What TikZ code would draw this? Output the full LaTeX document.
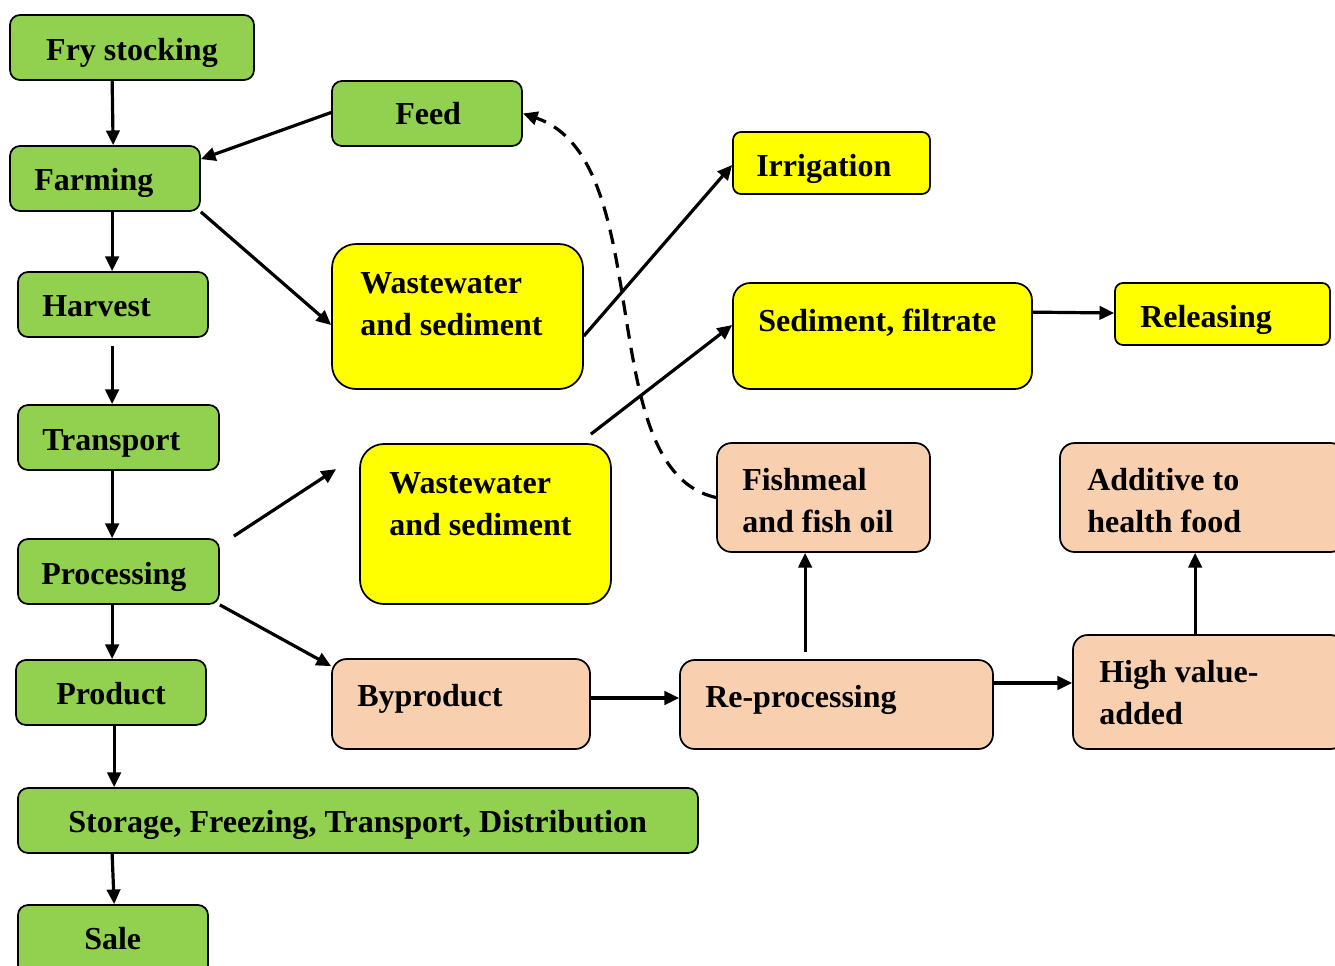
\documentclass[tikz,border=0pt]{standalone}
\usepackage{fontspec}
\usepackage{graphicx}
\setmainfont{Liberation Serif}
\usetikzlibrary{arrows.meta,calc}
\definecolor{gr}{HTML}{92D050}
\definecolor{yl}{HTML}{FFFF00}
\definecolor{pc}{HTML}{F8D0B0}
\newcommand\mybox[7]{\node[box,fill=#6,rounded corners=#7,minimum width=#4*0.75pt,minimum height=#5*0.75pt] (#1) at (#2,#3) {};}
\begin{document}
\begin{tikzpicture}[x=0.75pt,y=-0.75pt,
  box/.style={draw=black,line width=1.3pt,inner sep=0pt},
  lbl/.style={font=\fontsize{24}{31.5}\selectfont\bfseries,inner sep=0pt,anchor=base west,align=left},
  arr/.style={line width=2.4pt,-{Triangle[length=11pt,width=10pt]}},
  dsh/.style={line width=2.4pt,dash pattern=on 11pt off 7pt,-{Triangle[length=11pt,width=10pt]}}]
\useasboundingbox (0,0) rectangle (1335,965);
\clip (0,0) rectangle (1335,965);
% boxes
\mybox{fry}{132}{47.5}{244}{65}{gr}{7.5pt}
\mybox{farm}{105}{178.5}{190}{65}{gr}{7.5pt}
\mybox{feed}{427}{113.5}{190}{65}{gr}{7.5pt}
\mybox{harv}{113}{304.5}{190}{65}{gr}{7.5pt}
\mybox{trans}{118.5}{437.5}{201}{65}{gr}{7.5pt}
\mybox{proc}{118.5}{571.5}{201}{65}{gr}{7.5pt}
\mybox{prod}{111}{692.5}{190}{65}{gr}{7.5pt}
\mybox{stor}{358}{820.5}{680}{65}{gr}{7.5pt}
\mybox{sale}{113}{940}{190}{70}{gr}{7.5pt}
\mybox{ww1}{457.5}{316.5}{251}{145}{yl}{18pt}
\mybox{ww2}{485.5}{524}{251}{160}{yl}{18pt}
\mybox{irr}{831.5}{163}{197}{62}{yl}{6pt}
\mybox{sed}{882.5}{336}{299}{106}{yl}{13pt}
\mybox{rel}{1222.5}{314}{215}{62}{yl}{6pt}
\mybox{fish}{823.5}{497.5}{213}{109}{pc}{11pt}
\mybox{add}{1202.5}{497.5}{285}{109}{pc}{11pt}
\mybox{byp}{461}{704}{258}{90}{pc}{11pt}
\mybox{rep}{836.5}{704.5}{313}{89}{pc}{11pt}
\mybox{high}{1209}{692}{272}{114}{pc}{11pt}
% labels (base anchor = baseline of the last line)
\node[lbl,anchor=base] (fryT) at (132,60) {Fry stocking};
\node[lbl] (farmT) at (34,190) {Farming};
\node[lbl] (feedT) at (395,124) {Feed};
\node[lbl] (harvT) at (42,316) {Harvest};
\node[lbl] (transT) at (42,450) {Transport};
\node[lbl] (procT) at (41,584) {Processing};
\node[lbl] (prodT) at (56,704) {Product};
\node[lbl] (storT) at (68,832) {\resizebox{434pt}{\height}{Storage, Freezing, Transport, Distribution}};
\node[lbl] (saleT) at (84,949) {Sale};
\node[lbl] (ww1T) at (360,335) {Wastewater\\and sediment};
\node[lbl] (ww2T) at (389,535) {Wastewater\\and sediment};
\node[lbl] (irrT) at (756,176) {Irrigation};
\node[lbl] (sedT) at (758,331) {Sediment, filtrate};
\node[lbl] (relT) at (1140,327) {Releasing};
\node[lbl] (fishT) at (742,532) {Fishmeal\\and fish oil};
\node[lbl] (addT) at (1087,532) {Additive to\\health food};
\node[lbl] (bypT) at (357,706) {Byproduct};
\node[lbl] (repT) at (705,707) {Re-processing};
\node[lbl] (highT) at (1099,724) {High value-\\added};
% connectors
\draw[arr] ($(fry.south west)+(103,0)$) -- ($(farm.north west)+(104,0)$);
\draw[arr] ($(feed.west)+(0,-1)$) -- ($(farm.north east)+(0,14)$);
\draw[arr] (farm.south east) -- ($(ww1.west)+(0,8.5)$);
\draw[arr] ($(farm.south west)+(103,0)$) -- ($(harv.north west)+(95,0)$);
\draw[arr] ($(harv.south west)+(95,8)$) -- ($(trans.north west)+(95,0)$);
\draw[arr] ($(trans.south west)+(95,0)$) -- ($(proc.north west)+(95,0)$);
\coordinate (wwin) at ($(ww2.north west)+(-23,26)$);
\draw[arr] ($(proc.north east)+(14,-2)$) -- (wwin);
\draw[arr] (proc.south east) -- ($(byp.north west)+(0,8)$);
\draw[arr] ($(proc.south west)+(95,0)$) -- ($(prod.north west)+(97,0)$);
\draw[arr] ($(prod.south west)+(99,0)$) -- ($(stor.north west)+(97,0)$);
\draw[arr] ($(stor.south west)+(95,0)$) -- ($(sale.north west)+(97,0)$);
\draw[arr] ($(ww1.east)+(0,19.5)$) -- ($(irr.west)+(0,2)$);
\draw[arr] ($(ww2.north east)+(-21,-9)$) -- ($(sed.west)+(0,-11)$);
\draw[arr] ($(sed.north east)+(0,30)$) -- ($(rel.west)+(0,-1)$);
\draw[arr] ($(byp.east)+(0,-6)$) -- ($(rep.west)+(0,-6.5)$);
\draw[arr] ($(rep.north west)+(126,-7)$) -- ($(fish.south west)+(89,0)$);
\draw[arr] ($(rep.east)+(0,-21.5)$) -- ($(high.west)+(0,-9)$);
\draw[arr] ($(high.north west)+(123,0)$) -- ($(add.south west)+(136,0)$);
\draw[dsh] (fish.west) .. controls (590,470) and (660,160) .. (feed.east);
\end{tikzpicture}
\end{document}
